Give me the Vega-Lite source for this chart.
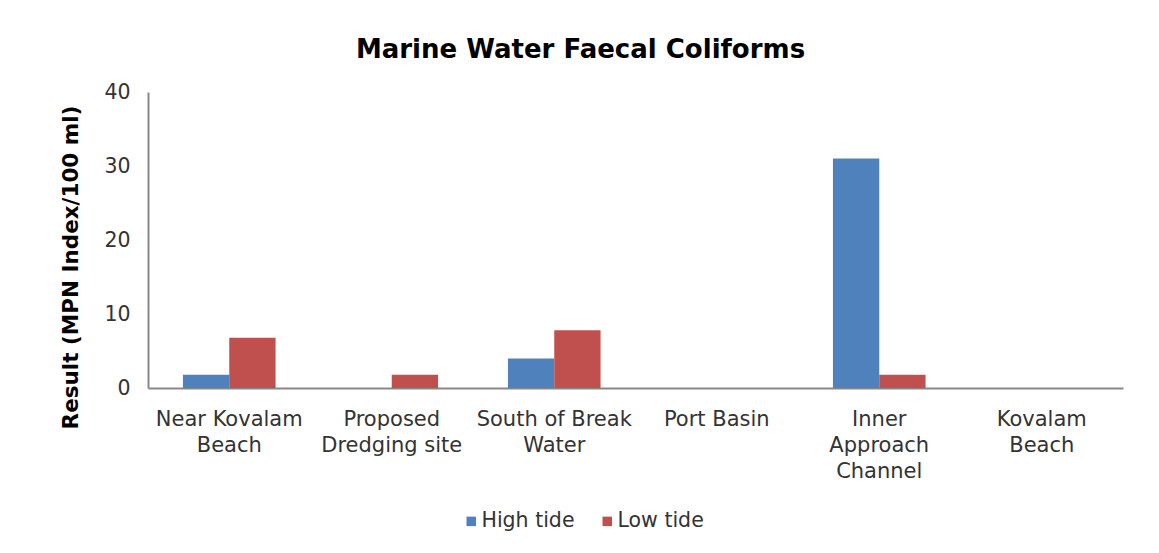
{
  "$schema": "https://vega.github.io/schema/vega-lite/v6.json",
  "autosize": {"type": "none"},
  "padding": {"left": 148, "top": 92, "right": 36, "bottom": 165},
  "width": 975,
  "height": 296,
  "background": "white",
  "title": {
    "text": "Marine Water Faecal Coliforms",
    "font": "DejaVu Sans",
    "fontSize": 26,
    "fontWeight": "bold",
    "color": "#000000",
    "anchor": "middle",
    "baseline": "alphabetic",
    "dx": -55,
    "dy": 36,
    "offset": 34
  },
  "data": {
    "values": [
      {"site": "Near Kovalam Beach", "tide": "High tide", "value": 1.8},
      {"site": "Near Kovalam Beach", "tide": "Low tide", "value": 6.8},
      {"site": "Proposed Dredging site", "tide": "High tide", "value": 0},
      {"site": "Proposed Dredging site", "tide": "Low tide", "value": 1.8},
      {"site": "South of Break Water", "tide": "High tide", "value": 4.0},
      {"site": "South of Break Water", "tide": "Low tide", "value": 7.8},
      {"site": "Port Basin", "tide": "High tide", "value": 0},
      {"site": "Port Basin", "tide": "Low tide", "value": 0},
      {"site": "Inner Approach Channel", "tide": "High tide", "value": 31},
      {"site": "Inner Approach Channel", "tide": "Low tide", "value": 1.8},
      {"site": "Kovalam Beach", "tide": "High tide", "value": 0},
      {"site": "Kovalam Beach", "tide": "Low tide", "value": 0}
    ]
  },
  "mark": {"type": "bar"},
  "encoding": {
    "x": {
      "field": "site",
      "type": "nominal",
      "sort": null,
      "scale": {"paddingInner": 0.43, "paddingOuter": 0.215},
      "axis": {
        "title": null,
        "labelAngle": 0,
        "ticks": false,
        "domainColor": "#888888",
        "domainWidth": 2,
        "labelFont": "DejaVu Sans",
        "labelFontSize": 21,
        "labelColor": "#333333",
        "labelPadding": 20,
        "labelLineHeight": 26,
        "labelBaseline": "top",
        "labelExpr": "datum.label == 'Near Kovalam Beach' ? ['Near Kovalam', 'Beach'] : datum.label == 'Proposed Dredging site' ? ['Proposed', 'Dredging site'] : datum.label == 'South of Break Water' ? ['South of Break', 'Water'] : datum.label == 'Inner Approach Channel' ? ['Inner', 'Approach', 'Channel'] : datum.label == 'Kovalam Beach' ? ['Kovalam', 'Beach'] : datum.label"
      }
    },
    "xOffset": {
      "field": "tide",
      "type": "nominal",
      "scale": {"paddingInner": 0, "paddingOuter": 0}
    },
    "y": {
      "field": "value",
      "type": "quantitative",
      "scale": {"domain": [0, 40]},
      "axis": {
        "title": "Result (MPN Index/100 ml)",
        "values": [0, 10, 20, 30, 40],
        "grid": false,
        "ticks": false,
        "domainColor": "#888888",
        "domainWidth": 2,
        "labelFont": "DejaVu Sans",
        "labelFontSize": 20.5,
        "labelColor": "#333333",
        "labelPadding": 18,
        "titleFont": "DejaVu Sans",
        "titleFontSize": 21.5,
        "titleFontWeight": "bold",
        "titleColor": "#000000",
        "titlePadding": 21,
        "titleY": 175
      }
    },
    "color": {
      "field": "tide",
      "type": "nominal",
      "scale": {"domain": ["High tide", "Low tide"], "range": ["#4F81BD", "#C0504D"]},
      "legend": {
        "title": null,
        "orient": "none",
        "direction": "horizontal",
        "legendX": 313,
        "legendY": 419,
        "symbolType": "square",
        "symbolSize": 90,
        "symbolOffset": 0,
        "labelFont": "DejaVu Sans",
        "labelFontSize": 20.5,
        "labelColor": "#333333",
        "labelOffset": 0,
        "columnPadding": 22
      }
    }
  },
  "config": {"view": {"stroke": null}}
}
